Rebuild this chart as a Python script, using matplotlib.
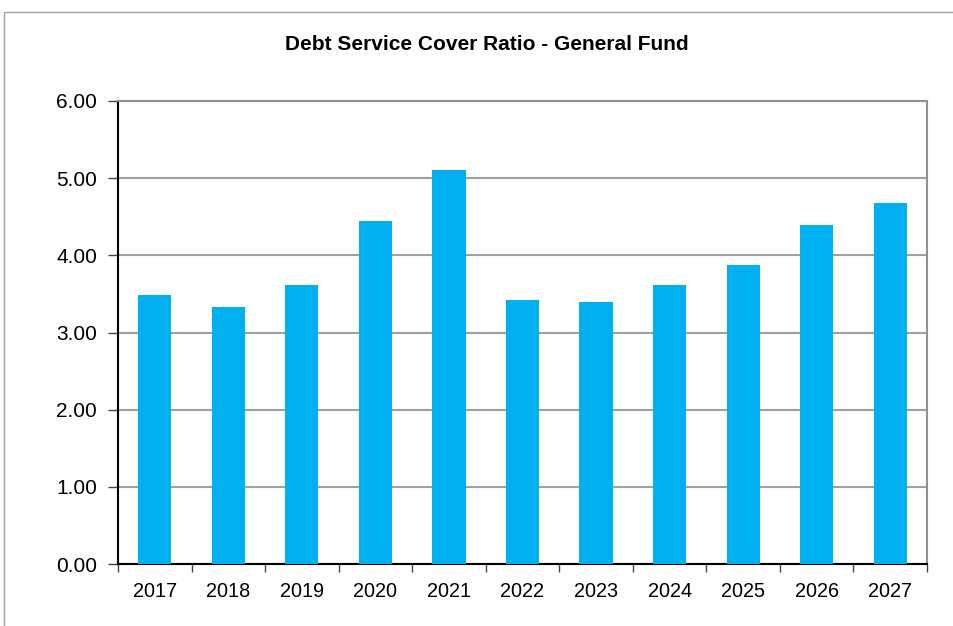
import matplotlib
matplotlib.use("Agg")
import matplotlib.pyplot as plt
from matplotlib.patches import Rectangle

years = ["2017", "2018", "2019", "2020", "2021", "2022", "2023", "2024", "2025", "2026", "2027"]
ratios = [3.49, 3.33, 3.61, 4.44, 5.11, 3.42, 3.39, 3.62, 3.87, 4.39, 4.68]
y_ticks = [0, 1, 2, 3, 4, 5, 6]

plt.rcParams['font.family'] = ['Liberation Sans', 'DejaVu Sans']

fig = plt.figure(figsize=(9.54, 6.26), dpi=100)
ax = fig.add_axes([118 / 954, 62 / 626, (927 - 118) / 954, (564 - 101) / 626])

# outer chart frame
fig.patches.append(Rectangle((4 / 954, -0.1), 1.2, (626 - 12) / 626 + 0.1,
                             transform=fig.transFigure, fill=False,
                             edgecolor='#a0a0a0', linewidth=1))

x = list(range(len(years)))
ax.bar(x, ratios, width=0.45, color='#00B0F0', zorder=3)

ax.set_xlim(-0.5, len(years) - 0.5)
ax.set_ylim(0, 6)
ax.set_yticks(y_ticks)
ax.set_yticklabels([f"{v:.2f}" for v in y_ticks], fontsize=15)
ax.set_xticks(x)
ax.set_xticklabels(years, fontsize=14.3)
ax.tick_params(axis='x', length=0, pad=13)
ax.set_xticks([i - 0.5 for i in range(len(years) + 1)], minor=True)
ax.tick_params(axis='x', which='minor', length=6, width=1, color='#444444', direction='out')
ax.tick_params(axis='y', length=7, width=1, color='#444444', direction='out', pad=8)

ax.grid(axis='y', color='#a0a0a0', linewidth=1.5, zorder=0)
ax.spines['left'].set_color('black')
ax.spines['bottom'].set_color('black')
ax.spines['left'].set_linewidth(1.5)
ax.spines['bottom'].set_linewidth(1.5)
ax.spines['top'].set_color('#909090')
ax.spines['right'].set_color('#909090')
ax.spines['top'].set_linewidth(1.5)
ax.spines['right'].set_linewidth(1.5)

fig.text(487 / 954, 1 - 45 / 626, "Debt Service Cover Ratio - General Fund",
         ha='center', va='center', fontsize=15, fontweight='bold')

plt.savefig("out.png", dpi=100)
plt.close()
